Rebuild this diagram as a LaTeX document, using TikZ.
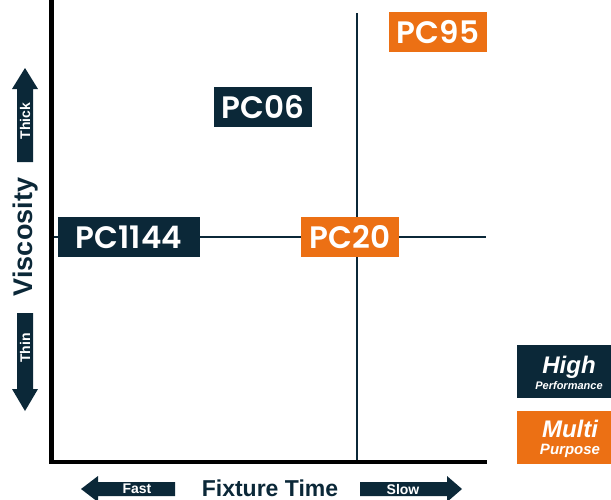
\documentclass[tikz,border=0pt]{standalone}
\usepackage{fontspec}
\setmainfont{Liberation Sans}
\newfontfamily\pcfont{Poppins}[BoldFont={Poppins SemiBold}]
\definecolor{navy}{HTML}{0B2838}
\definecolor{pcorange}{HTML}{EC7014}
\tikzset{
  pcbox/.style={fill=#1, text=white, inner sep=0pt, minimum height=40pt,
    font=\pcfont\bfseries\fontsize{31}{31}\selectfont},
  arrowlbl/.style={text=white, inner sep=0pt,
    font=\bfseries\fontsize{14}{14}\selectfont},
  axistitle/.style={text=navy, inner sep=0pt,
    font=\bfseries\fontsize{#1}{#1}\selectfont},
  keybox/.style={fill=#1, minimum width=94pt, minimum height=53pt, inner sep=0pt},
  keytext/.style={text=white, anchor=base, inner sep=0pt,
    font=\bfseries\itshape\fontsize{#1}{#1}\selectfont},
  axisline/.style={line width=4.5pt, black},
  gridline/.style={line width=2pt, navy},
}

\begin{document}
\begin{tikzpicture}[x=1pt,y=-1pt]
  \useasboundingbox (0,0) rectangle (611,499);
  % quadrant lines
  \coordinate (vtop) at (357,13);
  \coordinate (vbot) at (357,462);
  \coordinate (hleft) at (52,237);
  \coordinate (hright) at (486,237);
  \draw[gridline] (vtop) -- (vbot);
  \draw[gridline] (hleft) -- (hright);
  % axes
  \coordinate (origin) at (51.5,462);
  \draw[axisline] (51.5,0) -- (origin) -- (487,462);
  % products
  \node[pcbox=navy, minimum width=142pt] (pc1144) at (129,237) {PC1144};
  \node[pcbox=pcorange, minimum width=98pt] (pc20) at (350,237) {PC20};
  \node[pcbox=navy, minimum width=98pt] (pc06) at (263,107) {PC06};
  \node[pcbox=pcorange, minimum width=98pt] (pc95) at (438,32) {PC95};
  % viscosity axis
  \fill[navy] (25,68) -- (38,89) -- (33,89) -- (33,162) -- (17,162)
    -- (17,89) -- (12,89) -- cycle;
  \fill[navy] (25,411) -- (38,389) -- (33,389) -- (33,313) -- (17,313)
    -- (17,389) -- (12,389) -- cycle;
  \node[arrowlbl, rotate=90] (thick) at (25,121) {Thick};
  \node[arrowlbl, rotate=90] (thin) at (25,348) {Thin};
  \node[axistitle=27, rotate=90] (viscosity) at (26,237) {Viscosity};
  % fixture time axis
  \fill[navy] (81,489) -- (98,476) -- (98,482) -- (175,482) -- (175,496)
    -- (98,496) -- (98,502) -- cycle;
  \fill[navy] (360,482) -- (447,482) -- (447,476) -- (462,489) -- (447,502)
    -- (447,496) -- (360,496) -- cycle;
  \node[arrowlbl] (fast) at (137,489) {Fast};
  \node[arrowlbl] (slow) at (403,489) {Slow};
  \node[axistitle=23] (fixture) at (270,488) {Fixture Time};
  % key
  \node[keybox=navy] (hpbox) at (564,371.5) {};
  \node[keybox=pcorange] (mpbox) at (564,437.5) {};
  \node[keytext=24] (high) at (569,373) {High};
  \node[keytext=11] (perf) at (569,389) {Performance};
  \node[keytext=24] (multi) at (570,437) {Multi};
  \node[keytext=15] (purp) at (570,454) {Purpose};
\end{tikzpicture}
\end{document}
